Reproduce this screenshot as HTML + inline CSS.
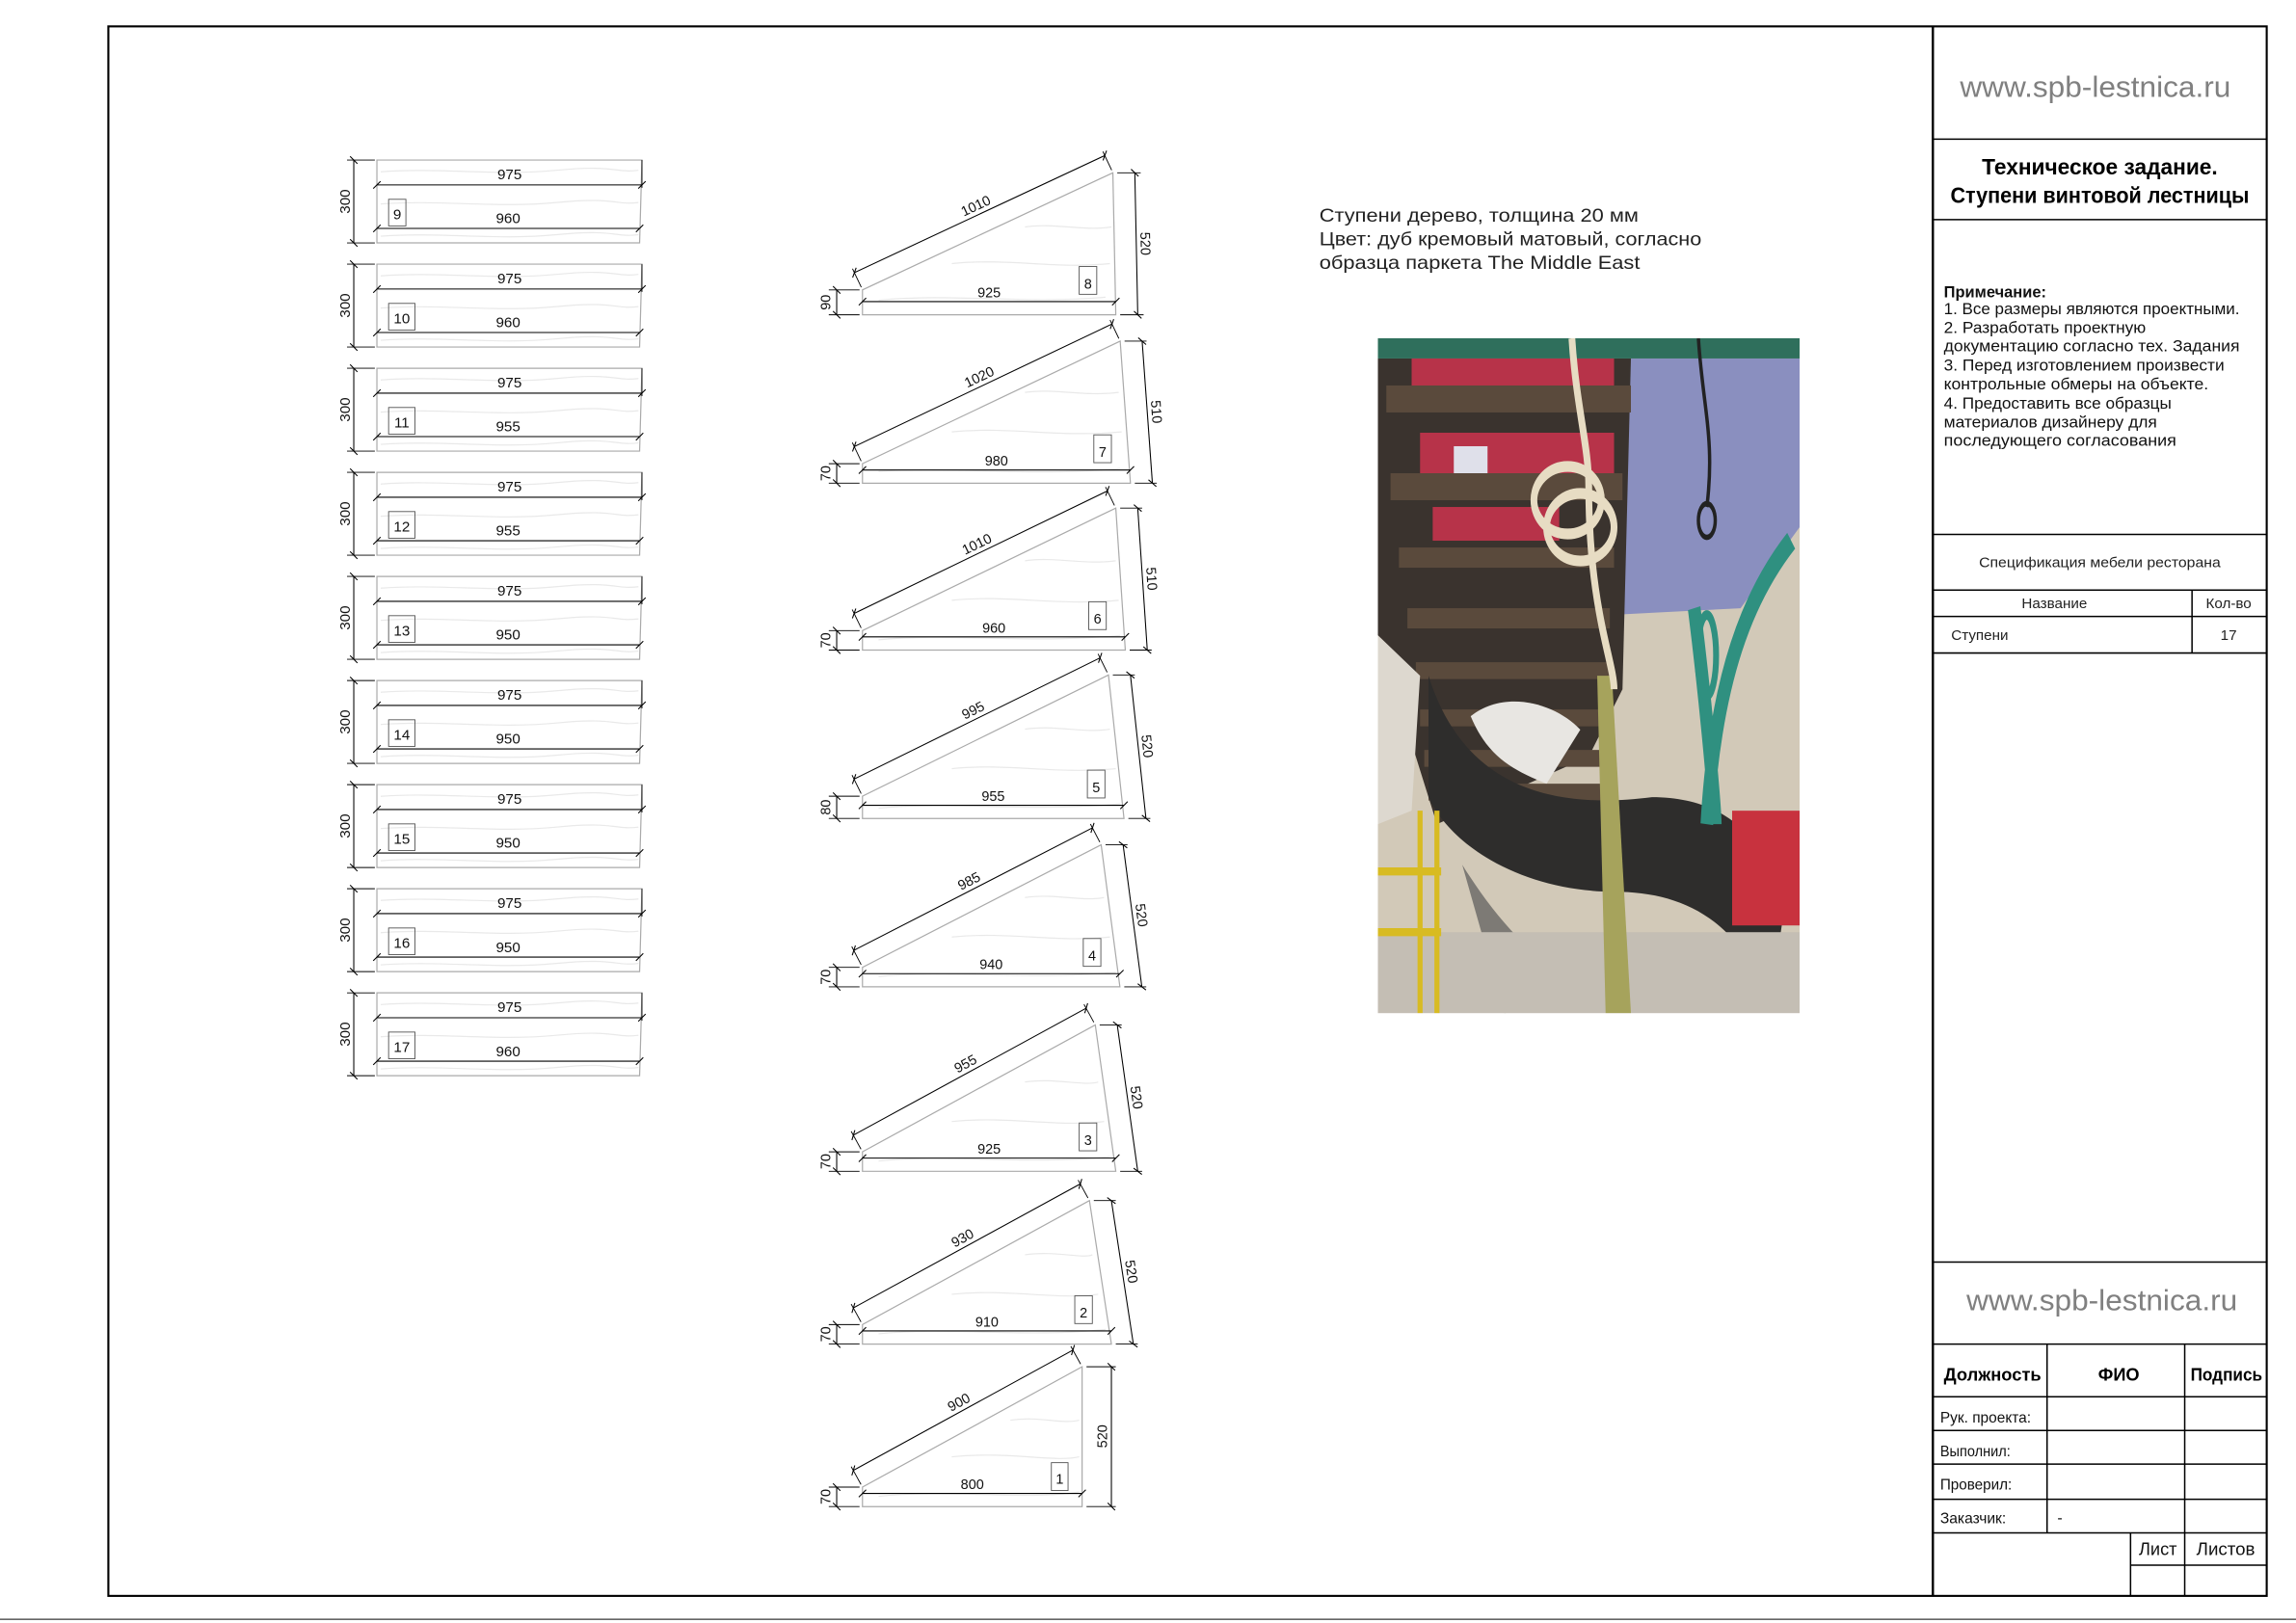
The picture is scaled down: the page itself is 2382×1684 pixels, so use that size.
<!DOCTYPE html>
<html><head><meta charset="utf-8">
<style>
html,body{margin:0;padding:0;background:#fff;}
svg{display:block;}
text{font-family:"Liberation Sans","DejaVu Sans",sans-serif;}
.d{stroke:#000;stroke-width:.7;marker-start:url(#t);marker-end:url(#t);}
.e{stroke:#000;stroke-width:.6;}
.s{fill:#fff;stroke:#aaa;stroke-width:.8;}
.g{fill:none;stroke:#e9e9e9;stroke-width:.8;}
.n{font-size:9.5px;text-anchor:middle;fill:#111;}
.m{font-size:10px;text-anchor:middle;fill:#111;}
.b{fill:none;stroke:#555;stroke-width:.6;}
.L{stroke:#000;stroke-width:1;}
</style></head><body>
<svg width="2382" height="1684" viewBox="0 0 1568 1108.5" xmlns="http://www.w3.org/2000/svg">
<defs>
<marker id="t" markerWidth="8" markerHeight="8" refX="4" refY="4" orient="auto" markerUnits="userSpaceOnUse" viewBox="0 0 8 8"><path d="M1.5,6.5 L6.5,1.5" stroke="#000" stroke-width=".7"/></marker>
<g id="tr">
<polygon class="s" points="257.4,0 438.4,0 436.8,56.6 257.4,56.6"/>
<path class="g" d="M260,8 C300,5 340,11 380,7 S420,9 436,7 M260,30 C300,27 340,33 380,29 S420,31 436,29 M260,52 C300,49 340,55 380,51 S420,53 436,51"/>
<line class="e" x1="438.4" y1="0" x2="438.4" y2="19"/>
<line class="d" x1="257.4" y1="17" x2="438.4" y2="17"/>
<line class="d" x1="257.4" y1="46.7" x2="436.8" y2="46.7"/>
<line class="e" x1="237" y1="0" x2="256" y2="0"/>
<line class="e" x1="237" y1="56.6" x2="256" y2="56.6"/>
<line class="d" x1="241.6" y1="0" x2="241.6" y2="56.6"/>
<text class="m" transform="translate(239,28.3) rotate(-90)">300</text>
<text class="m" x="348" y="13">975</text>
</g>
</defs>

<line x1="0" y1="1106" x2="1568" y2="1106" stroke="#666" stroke-width="1"/>
<rect x="74" y="18" width="1474" height="1072" fill="none" stroke="#000" stroke-width="1.4"/>
<line x1="1320" y1="18" x2="1320" y2="1090" stroke="#000" stroke-width="1.6"/>

<line class="L" x1="1320" y1="95" x2="1548" y2="95"/>
<line class="L" x1="1320" y1="150" x2="1548" y2="150"/>
<line class="L" x1="1320" y1="365" x2="1548" y2="365" stroke-width=".6"/>
<line class="L" x1="1320" y1="403" x2="1548" y2="403" stroke-width=".6"/>
<line class="L" x1="1320" y1="421" x2="1548" y2="421" stroke-width=".6"/>
<line class="L" x1="1320" y1="446" x2="1548" y2="446" stroke-width=".6"/>
<line class="L" x1="1497" y1="403" x2="1497" y2="446" stroke-width=".6"/>
<text x="1338.5" y="66" font-size="20" fill="#808080" textLength="185" lengthAdjust="spacingAndGlyphs">www.spb-lestnica.ru</text>
<text x="1434" y="119" font-size="15" font-weight="bold" text-anchor="middle" textLength="161" lengthAdjust="spacingAndGlyphs">Техническое задание.</text>
<text x="1434" y="138.5" font-size="15" font-weight="bold" text-anchor="middle" textLength="204" lengthAdjust="spacingAndGlyphs">Ступени винтовой лестницы</text>
<g font-size="11" fill="#111">
<text x="1327.5" y="203" font-weight="bold" textLength="70" lengthAdjust="spacingAndGlyphs">Примечание:</text>
<text x="1327.5" y="214.5" textLength="202" lengthAdjust="spacingAndGlyphs">1. Все размеры являются проектными.</text>
<text x="1327.5" y="227.5" textLength="138" lengthAdjust="spacingAndGlyphs">2. Разработать проектную</text>
<text x="1327.5" y="240" textLength="202" lengthAdjust="spacingAndGlyphs">документацию согласно тех. Задания</text>
<text x="1327.5" y="253" textLength="191.6" lengthAdjust="spacingAndGlyphs">3. Перед изготовлением произвести</text>
<text x="1327.5" y="266" textLength="180.7" lengthAdjust="spacingAndGlyphs">контрольные обмеры на объекте.</text>
<text x="1327.5" y="279" textLength="155.5" lengthAdjust="spacingAndGlyphs">4. Предоставить все образцы</text>
<text x="1327.5" y="292" textLength="145.6" lengthAdjust="spacingAndGlyphs">материалов дизайнеру для</text>
<text x="1327.5" y="304.5" textLength="158.8" lengthAdjust="spacingAndGlyphs">последующего согласования</text>
</g>
<g font-size="10" fill="#222">
<text x="1434" y="387.5" text-anchor="middle" textLength="165" lengthAdjust="spacingAndGlyphs">Спецификация мебели ресторана</text>
<text x="1403" y="415.5" text-anchor="middle">Название</text>
<text x="1522" y="415.5" text-anchor="middle">Кол-во</text>
<text x="1332.5" y="437">Ступени</text>
<text x="1522" y="437" text-anchor="middle">17</text>
</g>

<g stroke="#000" stroke-width="1">
<line x1="1320" y1="862" x2="1548" y2="862"/>
<line x1="1320" y1="918" x2="1548" y2="918"/>
<line x1="1320" y1="954" x2="1548" y2="954"/>
<line x1="1320" y1="977" x2="1548" y2="977"/>
<line x1="1320" y1="1000" x2="1548" y2="1000"/>
<line x1="1320" y1="1024" x2="1548" y2="1024"/>
<line x1="1320" y1="1047" x2="1548" y2="1047"/>
<line x1="1455" y1="1069" x2="1548" y2="1069"/>
<line x1="1398" y1="918" x2="1398" y2="1047"/>
<line x1="1492" y1="918" x2="1492" y2="1090"/>
<line x1="1455" y1="1047" x2="1455" y2="1090"/>
</g>
<text x="1343" y="895" font-size="20" fill="#808080" textLength="185" lengthAdjust="spacingAndGlyphs">www.spb-lestnica.ru</text>
<g font-size="12" font-weight="bold">
<text x="1327.5" y="943" textLength="66.5" lengthAdjust="spacingAndGlyphs">Должность</text>
<text x="1447" y="943" text-anchor="middle">ФИО</text>
<text x="1496" y="943" textLength="49" lengthAdjust="spacingAndGlyphs">Подпись</text>
</g>
<g font-size="10.5" fill="#111">
<text x="1325" y="971.5" textLength="62" lengthAdjust="spacingAndGlyphs">Рук. проекта:</text>
<text x="1325" y="994.5" textLength="48" lengthAdjust="spacingAndGlyphs">Выполнил:</text>
<text x="1325" y="1017.5" textLength="49" lengthAdjust="spacingAndGlyphs">Проверил:</text>
<text x="1325" y="1040.5" textLength="45" lengthAdjust="spacingAndGlyphs">Заказчик:</text>
<text x="1405" y="1040">-</text>
<text x="1460.7" y="1062" font-size="12" textLength="26" lengthAdjust="spacingAndGlyphs">Лист</text>
<text x="1500" y="1062" font-size="12" textLength="40" lengthAdjust="spacingAndGlyphs">Листов</text>
</g>

<g font-size="13" fill="#222">
<text x="901" y="151.5" textLength="218" lengthAdjust="spacingAndGlyphs">Ступени дерево, толщина 20 мм</text>
<text x="901" y="167.5" textLength="261" lengthAdjust="spacingAndGlyphs">Цвет: дуб кремовый матовый, согласно</text>
<text x="901" y="183.5" textLength="219" lengthAdjust="spacingAndGlyphs">образца паркета The Middle East</text>
</g>

<!-- photo -->
<svg x="941" y="231" width="288" height="461" viewBox="0 0 100 100" preserveAspectRatio="none">
<rect width="100" height="100" fill="#d2c9b8"/>
<rect x="0" y="0" width="100" height="3" fill="#2f6f5c"/>
<polygon points="57,3 100,3 100,28 86,40 55,41" fill="#8a8fbf"/>
<polygon points="0,3 60,3 58,52 50,62 14,72 0,44" fill="#3a332e"/>
<rect x="8" y="3" width="48" height="6" fill="#b73349"/>
<rect x="10" y="14" width="46" height="6" fill="#b73349"/>
<rect x="13" y="25" width="30" height="5" fill="#b73349"/>
<rect x="18" y="16" width="8" height="4" fill="#dfe0ea"/>
<g fill="#5a4a3c">
<rect x="2" y="7" width="58" height="4"/>
<rect x="3" y="20" width="55" height="4"/>
<rect x="5" y="31" width="51" height="3"/>
<rect x="7" y="40" width="48" height="3"/>
<rect x="9" y="48" width="46" height="2.5"/>
<rect x="10" y="55" width="44" height="2.5"/>
<rect x="11" y="61" width="43" height="2.5"/>
<rect x="12" y="66" width="41" height="2.5"/>
</g>
<path d="M12,50 C20,66 40,70 65,68 C85,68 94,76 96,86 L93,99 C86,86 72,82 56,82 C36,82 18,76 12,68 Z" fill="#2e2d2c"/>
<path d="M20,78 C30,88 40,94 55,98 L30,100 Z" fill="#7d7a75"/>
<path d="M75,40 C78,55 80,70 80,72 M98,30 C88,38 80,50 78,72" fill="none" stroke="#2f9080" stroke-width="3"/>
<ellipse cx="78" cy="47" rx="2.2" ry="6" fill="none" stroke="#2f9080" stroke-width="1.4"/>
<rect x="84" y="70" width="16" height="17" fill="#c8323e"/>
<rect x="0" y="88" width="100" height="12" fill="#c4beb4"/>
<path d="M0,44 L0,72 L8,70 L10,50 Z" fill="#ddd8cf"/>
<path d="M22,56 C30,52 42,54 48,58 L40,66 C32,64 26,62 22,56 Z" fill="#e8e6e2"/>
<g stroke="#d8bb22" stroke-width="1.2"><line x1="10" y1="70" x2="10" y2="100"/><line x1="14" y1="70" x2="14" y2="100"/><line x1="0" y1="79" x2="15" y2="79"/><line x1="0" y1="88" x2="15" y2="88"/></g>
<polygon points="52,50 55.5,50 60,100 54,100" fill="#a6a35c"/>
<g fill="none" stroke="#e7dcc3" stroke-width="1.6">
<path d="M46,0 C47,10 50,16 50,22 C50,40 56,48 56,52"/>
<ellipse cx="45" cy="24" rx="8" ry="5"/>
<ellipse cx="48" cy="28" rx="8" ry="5"/>
</g>
<path d="M76,0 C77,10 80,15 78,25" fill="none" stroke="#222" stroke-width=".8"/>
<ellipse cx="78" cy="27" rx="2" ry="2.5" fill="none" stroke="#222" stroke-width=".8"/>
</svg>

<g transform="translate(0,109.3)"><use href="#tr"/><text class="m" x="347" y="43.2">960</text><rect class="b" x="265.4" y="26.8" width="11.8" height="18.2"/><text class="m" x="271.3" y="40.5">9</text></g>
<g transform="translate(0,180.4)"><use href="#tr"/><text class="m" x="347" y="43.2">960</text><rect class="b" x="265.4" y="26.8" width="18" height="18.2"/><text class="m" x="274.4" y="40.5">10</text></g>
<g transform="translate(0,251.5)"><use href="#tr"/><text class="m" x="347" y="43.2">955</text><rect class="b" x="265.4" y="26.8" width="18" height="18.2"/><text class="m" x="274.4" y="40.5">11</text></g>
<g transform="translate(0,322.6)"><use href="#tr"/><text class="m" x="347" y="43.2">955</text><rect class="b" x="265.4" y="26.8" width="18" height="18.2"/><text class="m" x="274.4" y="40.5">12</text></g>
<g transform="translate(0,393.7)"><use href="#tr"/><text class="m" x="347" y="43.2">950</text><rect class="b" x="265.4" y="26.8" width="18" height="18.2"/><text class="m" x="274.4" y="40.5">13</text></g>
<g transform="translate(0,464.8)"><use href="#tr"/><text class="m" x="347" y="43.2">950</text><rect class="b" x="265.4" y="26.8" width="18" height="18.2"/><text class="m" x="274.4" y="40.5">14</text></g>
<g transform="translate(0,535.9)"><use href="#tr"/><text class="m" x="347" y="43.2">950</text><rect class="b" x="265.4" y="26.8" width="18" height="18.2"/><text class="m" x="274.4" y="40.5">15</text></g>
<g transform="translate(0,607)"><use href="#tr"/><text class="m" x="347" y="43.2">950</text><rect class="b" x="265.4" y="26.8" width="18" height="18.2"/><text class="m" x="274.4" y="40.5">16</text></g>
<g transform="translate(0,678.1)"><use href="#tr"/><text class="m" x="347" y="43.2">960</text><rect class="b" x="265.4" y="26.8" width="18" height="18.2"/><text class="m" x="274.4" y="40.5">17</text></g>

<polygon class="s" points="589,215 589,198 760,118 762,215"/>
<path class="g" d="M600,205 C650,200 700,208 755,203 M650,180 C690,176 720,184 758,180 M700,155 C720,152 740,158 759,155"/>
<line class="e" x1="588.2" y1="196.2" x2="582.2" y2="183.5"/><line class="e" x1="759.2" y1="116.2" x2="753.2" y2="103.5"/>
<line class="d" x1="583.5" y1="186.2" x2="754.5" y2="106.2"/>
<text class="n" transform="translate(669,146.2) rotate(-25.07)" y="-3">1010</text>
<line class="e" x1="763" y1="118" x2="779" y2="118"/><line class="e" x1="765" y1="215" x2="781" y2="215"/>
<line class="d" x1="775" y1="118" x2="777" y2="215"/>
<text class="n" transform="translate(779,166.5) rotate(88.8)">520</text>
<line class="e" x1="566" y1="198" x2="587" y2="198"/><line class="e" x1="566" y1="215" x2="587" y2="215"/>
<line class="d" x1="571.4" y1="198" x2="571.4" y2="215"/>
<text class="n" transform="translate(567,206.5) rotate(-90)">90</text>
<line class="d" x1="589" y1="206" x2="762" y2="206"/>
<text class="n" x="675.5" y="203">925</text>
<rect class="b" x="737" y="182" width="12" height="19"/><text class="n" x="743" y="197">8</text>

<polygon class="s" points="589,330 589,316.7 765,233 772,330"/>
<path class="g" d="M600,322 C650,318 700,326 765,320 M650,295 C690,291 720,299 766,295 M700,268 C720,265 740,271 764,268"/>
<line class="e" x1="588.1" y1="314.9" x2="582.1" y2="302.3"/><line class="e" x1="764.1" y1="231.2" x2="758.1" y2="218.6"/>
<line class="d" x1="583.4" y1="305" x2="759.4" y2="221.3"/>
<text class="n" transform="translate(671.4,263.1) rotate(-25.43)" y="-3">1020</text>
<line class="e" x1="768" y1="233" x2="783" y2="233"/><line class="e" x1="775" y1="330" x2="790" y2="330"/>
<line class="d" x1="780" y1="233" x2="787" y2="330"/>
<text class="n" transform="translate(786.5,281.5) rotate(85.9)">510</text>
<line class="e" x1="566" y1="316.7" x2="587" y2="316.7"/><line class="e" x1="566" y1="330" x2="587" y2="330"/>
<line class="d" x1="571.4" y1="316.7" x2="571.4" y2="330"/>
<text class="n" transform="translate(567,323.3) rotate(-90)">70</text>
<line class="d" x1="589" y1="321" x2="772" y2="321"/>
<text class="n" x="680.5" y="318">980</text>
<rect class="b" x="747" y="297" width="12" height="19"/><text class="n" x="753" y="312">7</text>

<polygon class="s" points="589,444 589,430.7 762,347 768.5,444"/>
<path class="g" d="M600,437 C650,432 700,440 765,434 M650,410 C690,406 720,414 764,410 M700,383 C720,380 740,386 762,383"/>
<line class="e" x1="588.1" y1="428.9" x2="582" y2="416.3"/><line class="e" x1="761.1" y1="345.2" x2="755" y2="332.6"/>
<line class="d" x1="583.3" y1="419" x2="756.3" y2="335.3"/>
<text class="n" transform="translate(669.8,377.2) rotate(-25.82)" y="-3">1010</text>
<line class="e" x1="765" y1="347" x2="780" y2="347"/><line class="e" x1="771.5" y1="444" x2="786.5" y2="444"/>
<line class="d" x1="777" y1="347" x2="783.5" y2="444"/>
<text class="n" transform="translate(783.3,395.5) rotate(86.2)">510</text>
<line class="e" x1="566" y1="430.7" x2="587" y2="430.7"/><line class="e" x1="566" y1="444" x2="587" y2="444"/>
<line class="d" x1="571.4" y1="430.7" x2="571.4" y2="444"/>
<text class="n" transform="translate(567,437.3) rotate(-90)">70</text>
<line class="d" x1="589" y1="435" x2="768.5" y2="435"/>
<text class="n" x="678.8" y="432">960</text>
<rect class="b" x="743.5" y="411" width="12" height="19"/><text class="n" x="749.5" y="426">6</text>

<polygon class="s" points="589,559 589,543.8 757,461 767.6,559"/>
<path class="g" d="M600,552 C650,547 700,555 765,549 M650,525 C690,521 720,529 762,525 M700,498 C720,495 740,501 758,498"/>
<line class="e" x1="588.1" y1="542" x2="581.9" y2="529.4"/><line class="e" x1="756.1" y1="459.2" x2="749.9" y2="446.6"/>
<line class="d" x1="583.3" y1="532.1" x2="751.3" y2="449.3"/>
<text class="n" transform="translate(667.3,490.7) rotate(-26.24)" y="-3">995</text>
<line class="e" x1="760" y1="461" x2="775" y2="461"/><line class="e" x1="770.6" y1="559" x2="785.6" y2="559"/>
<line class="d" x1="772" y1="461" x2="782.6" y2="559"/>
<text class="n" transform="translate(780.3,510) rotate(83.8)">520</text>
<line class="e" x1="566" y1="543.8" x2="587" y2="543.8"/><line class="e" x1="566" y1="559" x2="587" y2="559"/>
<line class="d" x1="571.4" y1="543.8" x2="571.4" y2="559"/>
<text class="n" transform="translate(567,551.4) rotate(-90)">80</text>
<line class="d" x1="589" y1="550" x2="767.6" y2="550"/>
<text class="n" x="678.3" y="547">955</text>
<rect class="b" x="742.6" y="526" width="12" height="19"/><text class="n" x="748.6" y="541">5</text>

<polygon class="s" points="589,674 589,660.7 752,577 764.8,674"/>
<path class="g" d="M600,667 C650,662 700,670 762,664 M650,640 C690,636 720,644 758,640 M700,613 C720,610 740,616 754,613"/>
<line class="e" x1="588.1" y1="658.9" x2="581.7" y2="646.5"/><line class="e" x1="751.1" y1="575.2" x2="744.7" y2="562.8"/>
<line class="d" x1="583.1" y1="649.1" x2="746.1" y2="565.4"/>
<text class="n" transform="translate(664.6,607.3) rotate(-27.18)" y="-3">985</text>
<line class="e" x1="755" y1="577" x2="770" y2="577"/><line class="e" x1="767.8" y1="674" x2="782.8" y2="674"/>
<line class="d" x1="767" y1="577" x2="779.8" y2="674"/>
<text class="n" transform="translate(776.4,625.5) rotate(82.5)">520</text>
<line class="e" x1="566" y1="660.7" x2="587" y2="660.7"/><line class="e" x1="566" y1="674" x2="587" y2="674"/>
<line class="d" x1="571.4" y1="660.7" x2="571.4" y2="674"/>
<text class="n" transform="translate(567,667.3) rotate(-90)">70</text>
<line class="d" x1="589" y1="665" x2="764.8" y2="665"/>
<text class="n" x="676.9" y="662">940</text>
<rect class="b" x="739.8" y="641" width="12" height="19"/><text class="n" x="745.8" y="656">4</text>

<polygon class="s" points="589,800 589,786.7 748,700 762,800"/>
<path class="g" d="M600,793 C650,788 700,796 758,790 M650,766 C690,762 720,770 754,766 M700,739 C720,736 740,742 750,739"/>
<line class="e" x1="588" y1="784.9" x2="581.3" y2="772.7"/><line class="e" x1="747" y1="698.2" x2="740.3" y2="686"/>
<line class="d" x1="582.8" y1="775.3" x2="741.8" y2="688.6"/>
<text class="n" transform="translate(662.3,732) rotate(-28.6)" y="-3">955</text>
<line class="e" x1="751" y1="700" x2="766" y2="700"/><line class="e" x1="765" y1="800" x2="780" y2="800"/>
<line class="d" x1="763" y1="700" x2="777" y2="800"/>
<text class="n" transform="translate(773,750) rotate(82)">520</text>
<line class="e" x1="566" y1="786.7" x2="587" y2="786.7"/><line class="e" x1="566" y1="800" x2="587" y2="800"/>
<line class="d" x1="571.4" y1="786.7" x2="571.4" y2="800"/>
<text class="n" transform="translate(567,793.3) rotate(-90)">70</text>
<line class="d" x1="589" y1="791" x2="762" y2="791"/>
<text class="n" x="675.5" y="788">925</text>
<rect class="b" x="737" y="767" width="12" height="19"/><text class="n" x="743" y="782">3</text>

<polygon class="s" points="589,918 589,904.7 744,820 759,918"/>
<path class="g" d="M600,911 C650,906 700,914 755,908 M650,884 C690,880 720,888 750,884 M700,857 C720,854 740,860 746,857"/>
<line class="e" x1="588" y1="902.9" x2="581.3" y2="890.7"/><line class="e" x1="743" y1="818.2" x2="736.3" y2="806"/>
<line class="d" x1="582.8" y1="893.3" x2="737.8" y2="808.6"/>
<text class="n" transform="translate(660.3,851) rotate(-28.65)" y="-3">930</text>
<line class="e" x1="747" y1="820" x2="762" y2="820"/><line class="e" x1="762" y1="918" x2="777" y2="918"/>
<line class="d" x1="759" y1="820" x2="774" y2="918"/>
<text class="n" transform="translate(769.5,869) rotate(81.3)">520</text>
<line class="e" x1="566" y1="904.7" x2="587" y2="904.7"/><line class="e" x1="566" y1="918" x2="587" y2="918"/>
<line class="d" x1="571.4" y1="904.7" x2="571.4" y2="918"/>
<text class="n" transform="translate(567,911.3) rotate(-90)">70</text>
<line class="d" x1="589" y1="909" x2="759" y2="909"/>
<text class="n" x="674" y="906">910</text>
<rect class="b" x="734" y="885" width="12" height="19"/><text class="n" x="740" y="900">2</text>

<polygon class="s" points="589,1029 589,1015.7 739,933.5 739,1029"/>
<path class="g" d="M600,1022 C650,1017 700,1025 737,1019 M650,995 C690,991 720,999 737,995 M690,970 C710,967 725,973 737,970"/>
<line class="e" x1="588" y1="1013.9" x2="581.3" y2="1001.7"/><line class="e" x1="738" y1="931.7" x2="731.3" y2="919.5"/>
<line class="d" x1="582.75" y1="1004.3" x2="732.75" y2="922.1"/>
<text class="n" transform="translate(657.8,963.2) rotate(-28.7)" y="-3">900</text>
<line class="e" x1="742" y1="933.5" x2="762" y2="933.5"/><line class="e" x1="742" y1="1029" x2="762" y2="1029"/>
<line class="d" x1="759" y1="933.5" x2="759" y2="1029"/>
<text class="n" transform="translate(756,981) rotate(-90)">520</text>
<line class="e" x1="566" y1="1015.7" x2="587" y2="1015.7"/><line class="e" x1="566" y1="1029" x2="587" y2="1029"/>
<line class="d" x1="571.4" y1="1015.7" x2="571.4" y2="1029"/>
<text class="n" transform="translate(567,1022.3) rotate(-90)">70</text>
<line class="d" x1="589" y1="1020" x2="739" y2="1020"/>
<text class="n" x="664" y="1017">800</text>
<rect class="b" x="718" y="999" width="11.4" height="19"/><text class="n" x="723.7" y="1013.5">1</text>
</svg>
</body></html>
